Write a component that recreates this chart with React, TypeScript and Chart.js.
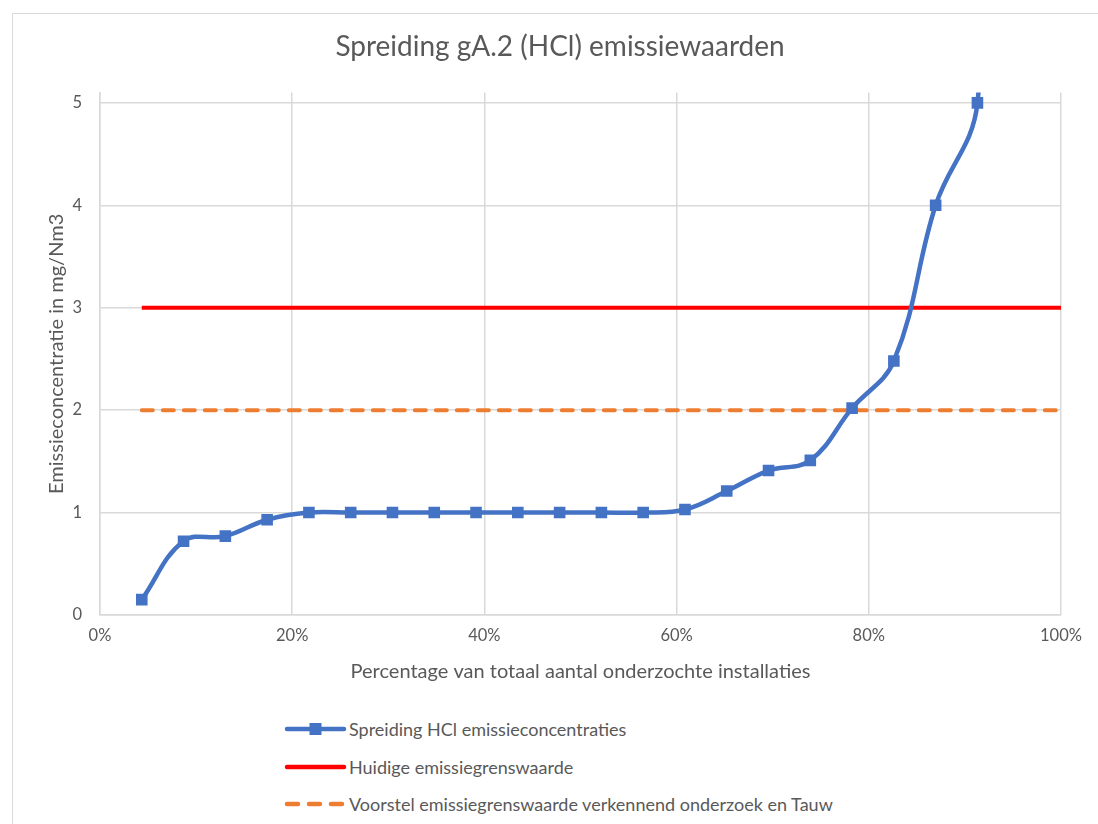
import React, { useEffect, useRef } from "react";
import { Chart, registerables } from "chart.js";

Chart.register(...registerables);

const TITLE = "Spreiding gA.2 (HCl) emissiewaarden";
const X_TITLE = "Percentage van totaal aantal onderzochte installaties";
const Y_TITLE = "Emissieconcentratie in mg/Nm3";

const SERIES_NAMES = [
  "Spreiding HCl emissieconcentraties",
  "Huidige emissiegrenswaarde",
  "Voorstel emissiegrenswaarde verkennend onderzoek en Tauw",
];

// installation rank (out of 23 installations)
const TOTAL_INSTALLATIONS = 23;
const RANKS = [1, 2, 3, 4, 5, 6, 7, 8, 9, 10, 11, 12, 13, 14, 15, 16, 17, 18, 19, 20, 21, 22, 23];
// emission concentrations (mg/Nm3); last two lie above the visible range
const HCL_VALUES = [
  0.15, 0.72, 0.77, 0.93, 1.0, 1.0, 1.0, 1.0, 1.0, 1.0, 1.0, 1.0, 1.0, 1.03, 1.21, 1.41, 1.51, 2.02, 2.48,
  4.0, 5.0, 12, 25,
];
const CURRENT_LIMIT = 3;
const PROPOSED_LIMIT = 2;
const LIMIT_X_RANGE = [1, 23]; // ranks spanned by the limit lines

const Y_TICKS = [0, 1, 2, 3, 4, 5];
const X_TICKS = [0, 20, 40, 60, 80, 100];

const BLUE = "#4472C4";
const RED = "#FF0000";
const ORANGE = "#ED7D31";
const GRID = "#D9D9D9";
const TEXT = "#595959";
const FONT = "Lato, 'Liberation Sans', sans-serif";

const pct = (rank: number) => (rank * 100) / TOTAL_INSTALLATIONS;

export default function App() {
  const ref = useRef<HTMLCanvasElement | null>(null);

  useEffect(() => {
    if (!ref.current) return;
    const chart = new Chart(ref.current, {
      type: "line",
      data: {
        datasets: [
          {
            label: SERIES_NAMES[0],
            data: RANKS.map((r, i) => ({ x: pct(r), y: HCL_VALUES[i] })),
            borderColor: BLUE,
            backgroundColor: BLUE,
            borderWidth: 4.5,
            pointStyle: "rect",
            pointRadius: 8.2,
            pointBorderWidth: 0,
            pointHoverRadius: 8.2,
            tension: 0.4,
          },
          {
            label: SERIES_NAMES[1],
            data: LIMIT_X_RANGE.map((r) => ({ x: pct(r), y: CURRENT_LIMIT })),
            borderColor: RED,
            backgroundColor: RED,
            borderWidth: 4,
            pointRadius: 0,
            tension: 0,
          },
          {
            label: SERIES_NAMES[2],
            data: LIMIT_X_RANGE.map((r) => ({ x: pct(r), y: PROPOSED_LIMIT })),
            borderColor: ORANGE,
            backgroundColor: ORANGE,
            borderWidth: 4,
            borderDash: [11, 10],
            borderCapStyle: "round",
            pointRadius: 0,
            tension: 0,
          },
        ],
      },
      options: {
        animation: false,
        responsive: false,
        maintainAspectRatio: false,
        layout: { padding: { left: 47, right: 47, top: 0, bottom: 0 } },
        plugins: {
          legend: { display: false },
          tooltip: { enabled: false },
          title: {
            display: true,
            text: TITLE,
            color: TEXT,
            font: { family: FONT, size: 28, weight: "normal", lineHeight: 1.2 },
            padding: { top: 17, bottom: 29 },
          },
        },
        scales: {
          x: {
            type: "linear",
            min: 0,
            max: 100,
            afterBuildTicks: (scale: any) => {
              scale.ticks = X_TICKS.map((v) => ({ value: v }));
            },
            afterFit: (scale: any) => {
              scale.height = 88;
            },
            ticks: {
              color: TEXT,
              font: { family: FONT, size: 16.5, lineHeight: 1.2 },
              padding: 11,
              callback: (v: any) => `${v}%`,
            },
            grid: { color: GRID, lineWidth: 1.5, drawTicks: false },
            border: { color: GRID, width: 1.5 },
            title: {
              display: true,
              text: X_TITLE,
              color: TEXT,
              font: { family: FONT, size: 20, lineHeight: 1.2 },
              padding: { top: 0, bottom: 19 },
            },
          },
          y: {
            type: "linear",
            min: 0,
            max: 5.1,
            afterBuildTicks: (scale: any) => {
              scale.ticks = Y_TICKS.map((v) => ({ value: v }));
            },
            afterFit: (scale: any) => {
              scale.width = 41;
            },
            ticks: {
              color: TEXT,
              font: { family: FONT, size: 16.5, lineHeight: 1.2 },
              padding: 18,
            },
            grid: { color: GRID, lineWidth: 1.5, drawTicks: false },
            border: { color: GRID, width: 1.5 },
            title: {
              display: true,
              text: Y_TITLE,
              color: TEXT,
              font: { family: FONT, size: 20, lineHeight: 1.2 },
              padding: { top: -14, bottom: -14 },
            },
          },
        },
      },
    });
    return () => chart.destroy();
  }, []);

  const legendRows = [
    { y: 729, kind: "blue" },
    { y: 767, kind: "red" },
    { y: 804, kind: "orange" },
  ];

  return (
    <div style={{ position: "fixed", left: 0, top: 0, width: 1098, height: 824, overflow: "hidden", background: "#fff" }}>
      <div
        style={{
          position: "absolute",
          left: 12,
          top: 13,
          width: 1200,
          height: 1000,
          borderLeft: `1.5px solid ${GRID}`,
          borderTop: `1.5px solid ${GRID}`,
          boxSizing: "border-box",
        }}
      />
      <canvas
        ref={ref}
        width={1096}
        height={690}
        style={{ position: "absolute", left: 12, top: 13, width: 1096, height: 690 }}
      />
      {legendRows.map((row, i) => (
        <div
          key={i}
          style={{
            position: "absolute",
            left: 284,
            top: row.y - 13,
            height: 26,
            display: "flex",
            alignItems: "center",
            fontFamily: FONT,
            fontSize: 18,
            color: TEXT,
            whiteSpace: "nowrap",
          }}
        >
          <svg width={63} height={16} style={{ marginRight: 2 }}>
            {row.kind === "blue" && (
              <>
                <line x1={3} y1={8} x2={60} y2={8} stroke={BLUE} strokeWidth={4.5} strokeLinecap="round" />
                <rect x={25.5} y={2} width={12} height={12} fill={BLUE} />
              </>
            )}
            {row.kind === "red" && (
              <line x1={3} y1={8} x2={60} y2={8} stroke={RED} strokeWidth={4.5} strokeLinecap="round" />
            )}
            {row.kind === "orange" && (
              <line
                x1={3}
                y1={8}
                x2={60}
                y2={8}
                stroke={ORANGE}
                strokeWidth={4.5}
                strokeLinecap="round"
                strokeDasharray="11 11"
              />
            )}
          </svg>
          <span>{SERIES_NAMES[i]}</span>
        </div>
      ))}
    </div>
  );
}
